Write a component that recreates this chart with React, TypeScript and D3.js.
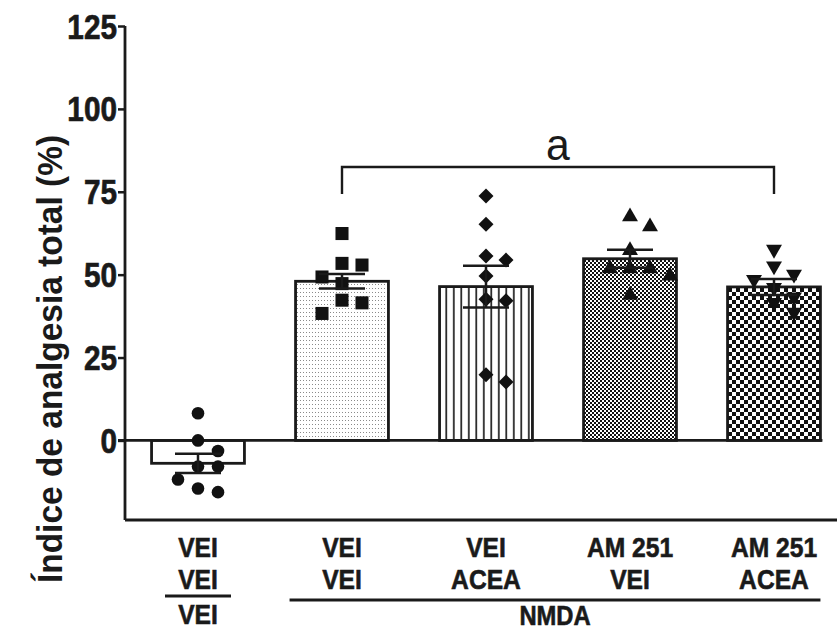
import React, { useEffect, useRef } from "react";
import * as d3 from "d3";

// groups, top to bottom label rows
const groupKeys = ["veh", "nmda-veh", "nmda-acea", "nmda-am", "nmda-am-acea"];
const labelRow1 = ["VEI", "VEI", "VEI", "AM 251", "AM 251"];
const labelRow2 = ["VEI", "VEI", "ACEA", "VEI", "ACEA"];
const labelRow3 = ["VEI", "", "", "", ""];
const bracketLabel = "NMDA";

const means = [-6.9, 48.0, 46.4, 54.8, 46.3];
const sems = [2.9, 2.2, 6.3, 2.7, 2.4];

const pointsVeh = [8.2, 0, -3.2, -7.9, -7.9, -11.8, -15.6, -14.5];
const pointsNmdaVeh = [62.4, 53.4, 52.9, 49.3, 47.3, 42.3, 41.5, 38.3];
const pointsNmdaAcea = [73.7, 65.2, 55.6, 54.4, 49.6, 42.6, 42.1, 17.6, 19.8];
const pointsNmdaAm = [67.5, 64.5, 57.3, 51.8, 49.6, 51.8, 51.8, 43.8];
const pointsNmdaAmAcea = [57.6, 52.6, 48.5, 50.1, 46.1, 43.2, 41.6, 38.6];
const allPoints = [pointsVeh, pointsNmdaVeh, pointsNmdaAcea, pointsNmdaAm, pointsNmdaAmAcea];

const yTicks = [0, 25, 50, 75, 100, 125];
const yTitle = "Índice de analgesia total (%)";
const sigLabel = "a";
const sigFrom = 1;
const sigTo = 4;

const FONT = "'Liberation Sans', Arial, sans-serif";
const INK = "#1a1a1a";

// simple swarm so points spread sideways instead of overlapping
function swarm(values: number[], y: (v: number) => number, step: number, minDist: number) {
  const placed: { dx: number; py: number }[] = [];
  const offs: number[] = new Array(values.length).fill(0);
  const order = values.map((_, i) => i).sort((a, b) => values[b] - values[a]);
  for (const i of order) {
    const py = y(values[i]);
    for (const k of [0, 1, -1, 2, -2, 3, -3]) {
      const dx = k * step;
      if (placed.every((p) => Math.abs(p.dx - dx) >= minDist || Math.abs(p.py - py) >= minDist)) {
        offs[i] = dx;
        placed.push({ dx, py });
        break;
      }
    }
  }
  return offs;
}

const App = () => {
  const ref = useRef<SVGSVGElement>(null);

  useEffect(() => {
    const svg = d3.select(ref.current);
    svg.selectAll("*").remove();

    const width = 837;
    const height = 630;
    const axisX = 125;
    const axisBottom = 520;

    const y = d3.scaleLinear().domain([-24, 125]).range([axisBottom, 26]);
    const x = d3
      .scaleBand()
      .domain(groupKeys)
      .range([126, 846])
      .paddingInner(0.355)
      .paddingOuter(0.1775);
    const mid = (k: string) => x(k)! + x.bandwidth() / 2;

    svg.attr("width", width).attr("height", height);

    // text squeezed a bit horizontally, the figure fonts are narrow and heavy
    const label = (g: any, tx: number, ty: number, s: string, size: number, opts: any = {}) =>
      g
        .append("text")
        .attr("transform", `translate(${tx},${ty}) scale(${opts.sx ?? 0.88},1)`)
        .attr("text-anchor", opts.anchor ?? "middle")
        .attr("font-family", FONT)
        .attr("font-weight", opts.weight ?? "bold")
        .attr("font-size", size)
        .attr("fill", INK)
        .attr("stroke", INK)
        .attr("stroke-width", opts.stroke ?? 0.6)
        .text(s);

    // fill patterns
    const defs = svg.append("defs");
    const dots = defs.append("pattern").attr("id", "dots").attr("patternUnits", "userSpaceOnUse").attr("width", 3).attr("height", 4);
    dots.append("rect").attr("width", 3).attr("height", 4).attr("fill", "#fff");
    dots.append("rect").attr("width", 1).attr("height", 1).attr("fill", "#8a8a8a");

    const vlines = defs.append("pattern").attr("id", "vlines").attr("patternUnits", "userSpaceOnUse").attr("width", 7.5).attr("height", 10);
    vlines.append("rect").attr("width", 7.5).attr("height", 10).attr("fill", "#fff");
    vlines.append("rect").attr("x", 3).attr("width", 1.6).attr("height", 10).attr("fill", "#111");

    const checker = (id: string, s: number) => {
      const p = defs.append("pattern").attr("id", id).attr("patternUnits", "userSpaceOnUse").attr("width", s * 2).attr("height", s * 2);
      p.append("rect").attr("width", s * 2).attr("height", s * 2).attr("fill", "#fff");
      p.append("rect").attr("width", s).attr("height", s).attr("fill", "#111");
      p.append("rect").attr("x", s).attr("y", s).attr("width", s).attr("height", s).attr("fill", "#111");
    };
    checker("fine", 2);
    checker("coarse", 4);

    const fills = ["#fff", "url(#dots)", "url(#vlines)", "url(#fine)", "url(#coarse)"];

    // bars
    svg
      .append("g")
      .selectAll("rect")
      .data(means)
      .join("rect")
      .attr("x", (_, i) => x(groupKeys[i])!)
      .attr("width", x.bandwidth())
      .attr("y", (d) => Math.min(y(d), y(0)))
      .attr("height", (d) => Math.abs(y(d) - y(0)))
      .attr("fill", (_, i) => fills[i])
      .attr("stroke", INK)
      .attr("stroke-width", 2.8);

    // zero line
    svg
      .append("line")
      .attr("x1", axisX - 7)
      .attr("x2", x(groupKeys[4])! + x.bandwidth() + 2)
      .attr("y1", y(0))
      .attr("y2", y(0))
      .attr("stroke", INK)
      .attr("stroke-width", 2.8);

    // points
    const symbols = [
      { type: d3.symbolCircle, size: 125, rot: 0 },
      { type: d3.symbolSquare, size: 170, rot: 0 },
      { type: d3.symbolSquare, size: 112, rot: 45 },
      { type: d3.symbolTriangle, size: 110, rot: 0 },
      { type: d3.symbolTriangle, size: 110, rot: 180 },
    ];
    allPoints.forEach((vals, i) => {
      const cx = mid(groupKeys[i]);
      const offs = swarm(vals, y, 20, 14);
      const path = d3.symbol().type(symbols[i].type).size(symbols[i].size)();
      svg
        .append("g")
        .selectAll("path")
        .data(vals)
        .join("path")
        .attr("d", path)
        .attr("transform", (d, j) => `translate(${cx + offs[j]},${y(d)}) rotate(${symbols[i].rot})`)
        .attr("fill", "#111");
    });

    // error bars
    const capW = 23;
    means.forEach((m, i) => {
      const cx = mid(groupKeys[i]);
      const g = svg.append("g").attr("stroke", INK).attr("stroke-width", 2.5);
      g.append("line").attr("x1", cx).attr("x2", cx).attr("y1", y(m - sems[i])).attr("y2", y(m + sems[i]));
      [m - sems[i], m + sems[i]].forEach((v) => {
        g.append("line").attr("x1", cx - capW).attr("x2", cx + capW).attr("y1", y(v)).attr("y2", y(v));
      });
    });

    // y axis, labels drawn separately
    const yAxis = svg
      .append("g")
      .attr("transform", `translate(${axisX},0)`)
      .call(d3.axisLeft(y).tickValues(yTicks).tickSize(7).tickFormat(() => "").tickSizeOuter(0));
    yAxis.select(".domain").attr("stroke", INK).attr("stroke-width", 2.8).attr("d", `M0,${y(125)}V${axisBottom}`);
    yAxis.selectAll(".tick line").attr("stroke", INK).attr("stroke-width", 2.5);
    const tickG = svg.append("g");
    yTicks.forEach((t) => label(tickG, axisX - 8, y(t) + 12.5, String(t), 35, { anchor: "end", sx: 0.85, stroke: 0.7 }));

    // bottom line
    svg
      .append("line")
      .attr("x1", axisX)
      .attr("x2", width)
      .attr("y1", axisBottom)
      .attr("y2", axisBottom)
      .attr("stroke", INK)
      .attr("stroke-width", 2.8);

    // y title
    svg
      .append("text")
      .attr("transform", `translate(62,359) rotate(-90) scale(0.93,1)`)
      .attr("text-anchor", "middle")
      .attr("font-family", FONT)
      .attr("font-weight", "bold")
      .attr("font-size", 36)
      .attr("fill", INK)
      .text(yTitle);

    // significance bracket
    const sx1 = mid(groupKeys[sigFrom]);
    const sx2 = mid(groupKeys[sigTo]);
    svg
      .append("path")
      .attr("d", `M${sx1},194V167H${sx2}V194`)
      .attr("fill", "none")
      .attr("stroke", INK)
      .attr("stroke-width", 2.4);
    label(svg, (sx1 + sx2) / 2, 160, sigLabel, 45, { weight: "normal", sx: 0.95, stroke: 0 });

    // category labels
    const lab = svg.append("g");
    groupKeys.forEach((k, i) => {
      const cx = mid(k);
      label(lab, cx, 557, labelRow1[i], 28);
      label(lab, cx, 589, labelRow2[i], 28);
      if (labelRow3[i]) label(lab, cx, 624, labelRow3[i], 28);
    });

    const c0 = mid(groupKeys[0]);
    svg.append("line").attr("x1", c0 - 33).attr("x2", c0 + 33).attr("y1", 596).attr("y2", 596).attr("stroke", INK).attr("stroke-width", 2.8);

    const n1 = x(groupKeys[1])! - 6;
    const n2 = x(groupKeys[4])! + x.bandwidth();
    svg.append("line").attr("x1", n1).attr("x2", n2).attr("y1", 600).attr("y2", 600).attr("stroke", INK).attr("stroke-width", 2.8);
    label(lab, (n1 + n2) / 2, 625, bracketLabel, 27);
  }, []);

  return <svg ref={ref} style={{ position: "absolute", left: 0, top: 0, background: "#fff" }}></svg>;
};

export default App;
